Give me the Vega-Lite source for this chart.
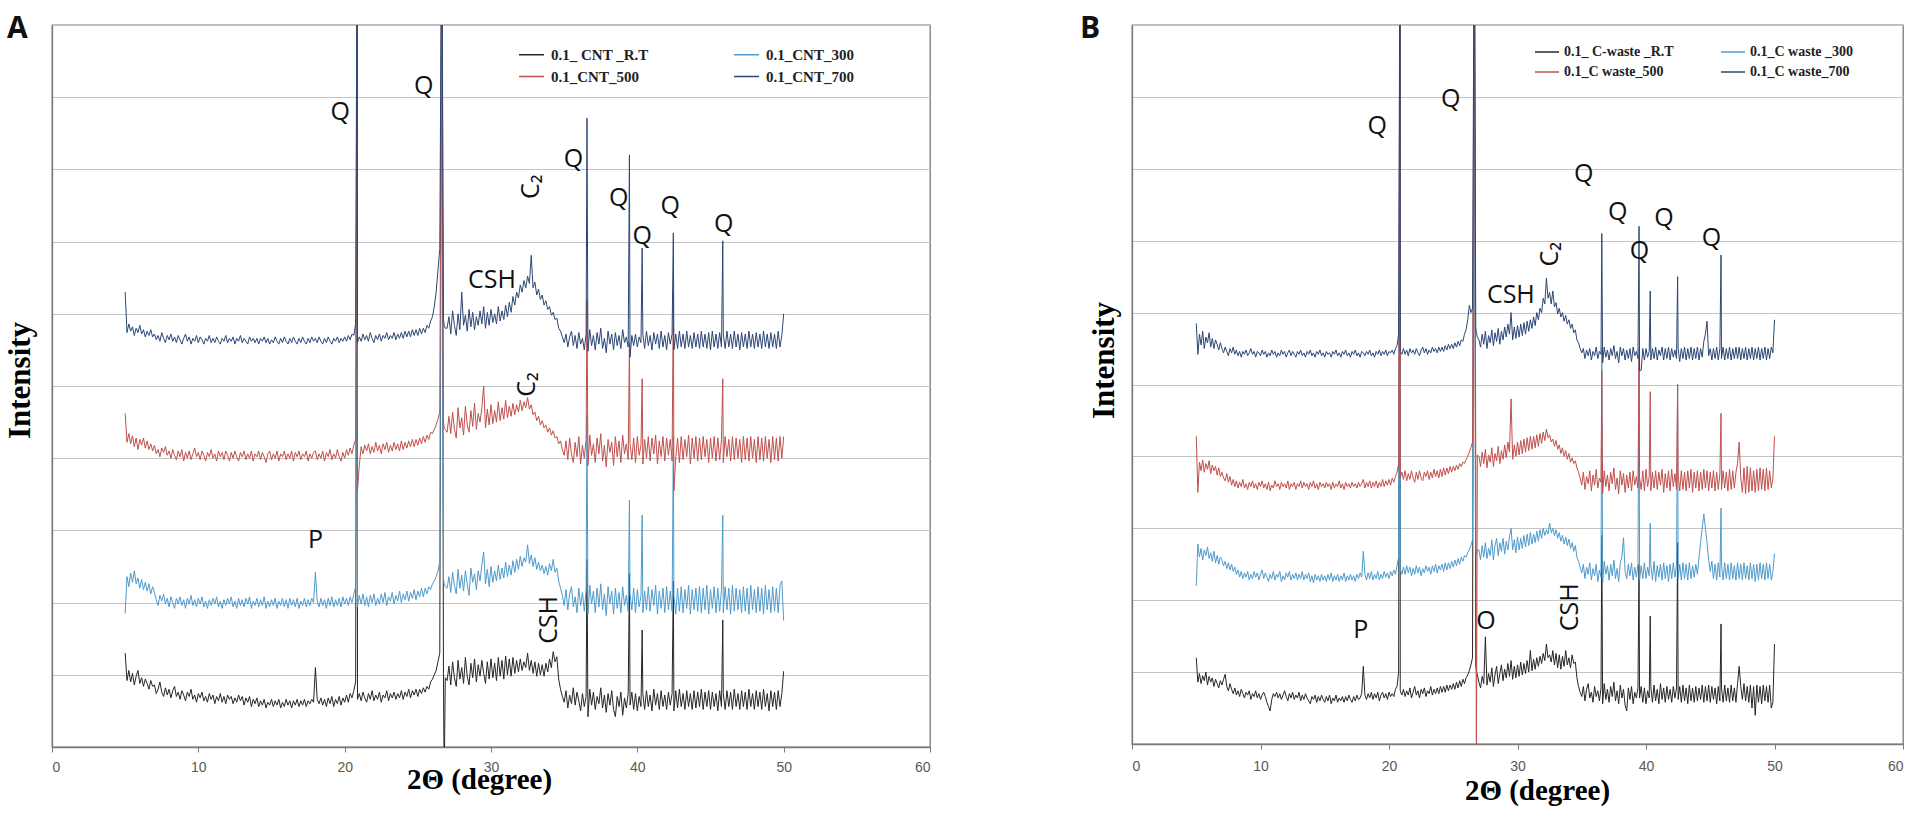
{
"$schema": "https://vega.github.io/schema/vega-lite/v6.json",
"background": "white",
"padding": {"left": 3, "top": 13, "right": 0, "bottom": 0},
"bounds": "flush",
"spacing": 202,
"config": {
  "view": {"stroke": "#7a7a7a", "strokeWidth": 1.3},
  "axis": {"domainColor": "#7a7a7a", "domainWidth": 1.3, "gridColor": "#c4c4c4", "gridWidth": 1.2, "tickColor": "#7a7a7a"}
},
"resolve": {"scale": {"color": "independent", "x": "independent", "y": "independent"}, "legend": {"color": "independent"}},
"datasets": {
"xrd": [
{"x":5,"a":1.3,"b":1.85,"c":4.62,"d":6.3,"e":1.2,"f":2.2,"g":4.28,"h":5.85},
{"x":5.125,"a":0.92,"b":2.36,"c":4.22,"d":5.74,"e":0.86,"f":2.78,"g":3.5,"h":5.42},
{"x":5.25,"a":1.06,"b":2.22,"c":4.34,"d":5.86,"e":0.98,"f":2.6,"g":3.92,"h":5.7},
{"x":5.375,"a":0.9,"b":2.41,"c":4.2,"d":5.76,"e":0.84,"f":2.72,"g":3.8,"h":5.55},
{"x":5.5,"a":1.02,"b":2.28,"c":4.31,"d":5.82,"e":0.95,"f":2.56,"g":3.95,"h":5.74},
{"x":5.625,"a":0.86,"b":2.44,"c":4.16,"d":5.7,"e":0.88,"f":2.7,"g":3.78,"h":5.5},
{"x":5.75,"a":0.98,"b":2.26,"c":4.28,"d":5.8,"e":1.0,"f":2.62,"g":3.9,"h":5.66},
{"x":5.875,"a":1.06,"b":2.34,"c":4.12,"d":5.74,"e":0.82,"f":2.74,"g":3.82,"h":5.58},
{"x":6,"a":0.88,"b":2.2,"c":4.26,"d":5.84,"e":0.94,"f":2.58,"g":3.94,"h":5.72},
{"x":6.125,"a":0.96,"b":2.32,"c":4.18,"d":5.72,"e":0.86,"f":2.66,"g":3.76,"h":5.52},
{"x":6.25,"a":0.84,"b":2.18,"c":4.28,"d":5.78,"e":0.92,"f":2.54,"g":3.88,"h":5.64},
{"x":6.375,"a":0.94,"b":2.28,"c":4.14,"d":5.68,"e":0.8,"f":2.68,"g":3.8,"h":5.5},
{"x":6.5,"a":0.88,"b":2.16,"c":4.24,"d":5.76,"e":0.9,"f":2.52,"g":3.86,"h":5.62},
{"x":6.625,"a":0.8,"b":2.26,"c":4.12,"d":5.7,"e":0.84,"f":2.62,"g":3.74,"h":5.56},
{"x":6.75,"a":0.92,"b":2.12,"c":4.2,"d":5.78,"e":0.78,"f":2.5,"g":3.84,"h":5.48},
{"x":6.875,"a":0.84,"b":2.22,"c":4.1,"d":5.68,"e":0.88,"f":2.6,"g":3.72,"h":5.58},
{"x":7,"a":0.86,"b":2.14,"c":4.18,"d":5.72,"e":0.82,"f":2.56,"g":3.78,"h":5.5},
{"x":7.125,"a":0.74,"b":2.04,"c":4.06,"d":5.64,"e":0.9,"f":2.48,"g":3.7,"h":5.44},
{"x":7.25,"a":0.8,"b":1.96,"c":4.12,"d":5.7,"e":0.97,"f":2.54,"g":3.66,"h":5.52},
{"x":7.375,"a":0.9,"b":2.1,"c":4.02,"d":5.62,"e":0.8,"f":2.44,"g":3.76,"h":5.46},
{"x":7.5,"a":0.76,"b":2.02,"c":4.14,"d":5.74,"e":0.74,"f":2.52,"g":3.64,"h":5.4},
{"x":7.625,"a":0.7,"b":2.12,"c":4.08,"d":5.66,"e":0.84,"f":2.42,"g":3.72,"h":5.5},
{"x":7.75,"a":0.82,"b":1.98,"c":4.16,"d":5.6,"e":0.76,"f":2.5,"g":3.6,"h":5.44},
{"x":7.875,"a":0.72,"b":2.06,"c":4.04,"d":5.7,"e":0.7,"f":2.4,"g":3.68,"h":5.52},
{"x":8,"a":0.8,"b":1.94,"c":4.1,"d":5.64,"e":0.78,"f":2.46,"g":3.58,"h":5.42},
{"x":8.125,"a":0.68,"b":2.08,"c":4.0,"d":5.72,"e":0.68,"f":2.36,"g":3.66,"h":5.48},
{"x":8.25,"a":0.78,"b":2.0,"c":4.12,"d":5.62,"e":0.74,"f":2.42,"g":3.56,"h":5.4},
{"x":8.375,"a":0.84,"b":1.92,"c":4.04,"d":5.68,"e":0.66,"f":2.32,"g":3.64,"h":5.46},
{"x":8.5,"a":0.7,"b":2.06,"c":3.98,"d":5.6,"e":0.76,"f":2.4,"g":3.58,"h":5.38},
{"x":8.625,"a":0.76,"b":1.98,"c":4.1,"d":5.7,"e":0.7,"f":2.3,"g":3.68,"h":5.46},
{"x":8.75,"a":0.66,"b":2.08,"c":4.02,"d":5.64,"e":0.64,"f":2.38,"g":3.56,"h":5.42},
{"x":8.875,"a":0.78,"b":1.96,"c":4.12,"d":5.58,"e":0.72,"f":2.32,"g":3.62,"h":5.48},
{"x":9,"a":0.72,"b":2.04,"c":3.96,"d":5.66,"e":0.68,"f":2.4,"g":3.54,"h":5.4},
{"x":9.125,"a":0.64,"b":1.92,"c":4.08,"d":5.72,"e":0.74,"f":2.28,"g":3.64,"h":5.44},
{"x":9.25,"a":0.76,"b":2.06,"c":4.0,"d":5.62,"e":0.62,"f":2.36,"g":3.58,"h":5.5},
{"x":9.375,"a":0.7,"b":1.98,"c":4.1,"d":5.68,"e":0.7,"f":2.3,"g":3.66,"h":5.42},
{"x":9.5,"a":0.8,"b":2.1,"c":3.98,"d":5.58,"e":0.66,"f":2.4,"g":3.56,"h":5.46},
{"x":9.625,"a":0.66,"b":1.96,"c":4.06,"d":5.66,"e":0.74,"f":2.32,"g":3.62,"h":5.38},
{"x":9.75,"a":0.72,"b":2.04,"c":4.14,"d":5.62,"e":0.64,"f":2.38,"g":3.54,"h":5.46},
{"x":9.875,"a":0.62,"b":1.94,"c":4.02,"d":5.7,"e":0.7,"f":2.28,"g":3.64,"h":5.44},
{"x":10,"a":0.74,"b":2.06,"c":4.08,"d":5.6,"e":0.62,"f":2.36,"g":3.58,"h":5.4},
{"x":10.125,"a":0.68,"b":1.98,"c":3.98,"d":5.68,"e":0.68,"f":2.42,"g":3.66,"h":5.48},
{"x":10.25,"a":0.76,"b":2.08,"c":4.1,"d":5.64,"e":0.72,"f":2.3,"g":3.56,"h":5.42},
{"x":10.375,"a":0.64,"b":1.94,"c":4.04,"d":5.58,"e":0.66,"f":2.38,"g":3.62,"h":5.46},
{"x":10.5,"a":0.7,"b":2.02,"c":3.96,"d":5.66,"e":0.58,"f":2.32,"g":3.54,"h":5.38},
{"x":10.625,"a":0.62,"b":1.92,"c":4.08,"d":5.62,"e":0.52,"f":2.26,"g":3.64,"h":5.44},
{"x":10.75,"a":0.74,"b":2.04,"c":4.02,"d":5.7,"e":0.46,"f":2.36,"g":3.52,"h":5.4},
{"x":10.875,"a":0.66,"b":1.96,"c":4.12,"d":5.6,"e":0.62,"f":2.3,"g":3.6,"h":5.48},
{"x":11,"a":0.72,"b":2.06,"c":4.0,"d":5.66,"e":0.7,"f":2.4,"g":3.56,"h":5.42},
{"x":11.125,"a":0.6,"b":1.98,"c":4.06,"d":5.6,"e":0.66,"f":2.28,"g":3.66,"h":5.46},
{"x":11.25,"a":0.7,"b":2.08,"c":3.96,"d":5.68,"e":0.72,"f":2.36,"g":3.58,"h":5.38},
{"x":11.375,"a":0.64,"b":1.94,"c":4.1,"d":5.62,"e":0.64,"f":2.32,"g":3.62,"h":5.44},
{"x":11.5,"a":0.74,"b":2.02,"c":4.02,"d":5.58,"e":0.7,"f":2.4,"g":3.54,"h":5.4},
{"x":11.625,"a":0.62,"b":1.92,"c":4.08,"d":5.66,"e":0.62,"f":2.26,"g":3.64,"h":5.48},
{"x":11.75,"a":0.7,"b":2.04,"c":3.98,"d":5.62,"e":0.68,"f":2.34,"g":3.58,"h":5.42},
{"x":11.875,"a":0.6,"b":1.96,"c":4.1,"d":5.7,"e":0.74,"f":2.28,"g":3.62,"h":5.46},
{"x":12,"a":0.72,"b":2.06,"c":4.04,"d":5.6,"e":0.66,"f":2.38,"g":3.56,"h":5.38},
{"x":12.125,"a":0.66,"b":1.98,"c":3.96,"d":5.66,"e":0.6,"f":2.32,"g":3.66,"h":5.44},
{"x":12.25,"a":0.7,"b":2.08,"c":4.08,"d":5.62,"e":0.7,"f":2.4,"g":3.54,"h":5.48},
{"x":12.375,"a":0.6,"b":1.94,"c":4.0,"d":5.68,"e":0.64,"f":2.28,"g":3.62,"h":5.4},
{"x":12.5,"a":0.68,"b":2.02,"c":4.1,"d":5.58,"e":0.72,"f":2.36,"g":3.58,"h":5.46},
{"x":12.625,"a":0.62,"b":1.92,"c":4.02,"d":5.66,"e":0.62,"f":2.3,"g":3.64,"h":5.42},
{"x":12.75,"a":0.72,"b":2.06,"c":3.96,"d":5.62,"e":0.68,"f":2.38,"g":3.54,"h":5.38},
{"x":12.875,"a":0.64,"b":1.96,"c":4.08,"d":5.7,"e":0.64,"f":2.28,"g":3.62,"h":5.46},
{"x":13,"a":0.7,"b":2.04,"c":4.02,"d":5.6,"e":0.72,"f":2.36,"g":3.58,"h":5.42},
{"x":13.125,"a":0.58,"b":1.94,"c":4.1,"d":5.66,"e":0.6,"f":2.3,"g":3.66,"h":5.48},
{"x":13.25,"a":0.68,"b":2.06,"c":3.98,"d":5.62,"e":0.68,"f":2.4,"g":3.56,"h":5.4},
{"x":13.375,"a":0.62,"b":1.98,"c":4.06,"d":5.58,"e":0.62,"f":2.28,"g":3.64,"h":5.44},
{"x":13.5,"a":0.7,"b":2.08,"c":4.0,"d":5.68,"e":0.7,"f":2.36,"g":3.58,"h":5.38},
{"x":13.625,"a":0.56,"b":1.92,"c":4.1,"d":5.62,"e":0.64,"f":2.3,"g":3.62,"h":5.46},
{"x":13.75,"a":0.66,"b":2.02,"c":3.96,"d":5.66,"e":0.6,"f":2.38,"g":3.54,"h":5.42},
{"x":13.875,"a":0.6,"b":1.96,"c":4.06,"d":5.6,"e":0.56,"f":2.26,"g":3.64,"h":5.48},
{"x":14,"a":0.68,"b":2.06,"c":4.02,"d":5.66,"e":0.66,"f":2.34,"g":3.58,"h":5.4},
{"x":14.125,"a":0.56,"b":1.94,"c":4.1,"d":5.58,"e":0.62,"f":2.24,"g":3.66,"h":5.44},
{"x":14.25,"a":0.64,"b":2.04,"c":3.98,"d":5.66,"e":0.68,"f":2.36,"g":3.56,"h":5.38},
{"x":14.375,"a":0.58,"b":1.96,"c":4.08,"d":5.62,"e":0.58,"f":2.28,"g":3.62,"h":5.46},
{"x":14.5,"a":0.66,"b":2.08,"c":4.02,"d":5.68,"e":0.66,"f":2.34,"g":3.54,"h":5.42},
{"x":14.625,"a":0.54,"b":1.92,"c":3.94,"d":5.6,"e":0.6,"f":2.26,"g":3.64,"h":5.48},
{"x":14.75,"a":0.62,"b":2.02,"c":4.06,"d":5.66,"e":0.68,"f":2.36,"g":3.58,"h":5.4},
{"x":14.875,"a":0.58,"b":1.94,"c":4.1,"d":5.58,"e":0.62,"f":2.28,"g":3.62,"h":5.44},
{"x":15,"a":0.66,"b":2.04,"c":3.98,"d":5.64,"e":0.58,"f":2.34,"g":3.56,"h":5.38},
{"x":15.125,"a":0.56,"b":1.96,"c":4.06,"d":5.6,"e":0.66,"f":2.26,"g":3.64,"h":5.46},
{"x":15.25,"a":0.64,"b":2.06,"c":4.0,"d":5.68,"e":0.6,"f":2.36,"g":3.58,"h":5.42},
{"x":15.375,"a":0.58,"b":1.92,"c":4.1,"d":5.62,"e":0.68,"f":2.28,"g":3.62,"h":5.44},
{"x":15.5,"a":0.66,"b":2.02,"c":3.96,"d":5.58,"e":0.56,"f":2.38,"g":3.54,"h":5.38},
{"x":15.625,"a":0.54,"b":1.96,"c":4.06,"d":5.66,"e":0.64,"f":2.26,"g":3.64,"h":5.46},
{"x":15.75,"a":0.62,"b":2.06,"c":4.02,"d":5.6,"e":0.6,"f":2.34,"g":3.56,"h":5.42},
{"x":15.875,"a":0.56,"b":1.94,"c":4.1,"d":5.68,"e":0.68,"f":2.28,"g":3.62,"h":5.48},
{"x":16,"a":0.66,"b":2.04,"c":3.98,"d":5.62,"e":0.58,"f":2.36,"g":3.58,"h":5.4},
{"x":16.125,"a":0.58,"b":1.92,"c":4.06,"d":5.58,"e":0.64,"f":2.26,"g":3.66,"h":5.44},
{"x":16.25,"a":0.64,"b":2.06,"c":4.0,"d":5.66,"e":0.6,"f":2.34,"g":3.56,"h":5.38},
{"x":16.375,"a":0.54,"b":1.96,"c":4.1,"d":5.6,"e":0.66,"f":2.28,"g":3.62,"h":5.46},
{"x":16.5,"a":0.64,"b":2.04,"c":3.96,"d":5.68,"e":0.58,"f":2.38,"g":3.54,"h":5.42},
{"x":16.625,"a":0.58,"b":1.94,"c":4.08,"d":5.62,"e":0.66,"f":2.26,"g":3.64,"h":5.48},
{"x":16.75,"a":0.66,"b":2.06,"c":4.02,"d":5.58,"e":0.6,"f":2.34,"g":3.58,"h":5.4},
{"x":16.875,"a":0.56,"b":1.92,"c":4.1,"d":5.66,"e":0.68,"f":2.28,"g":3.62,"h":5.44},
{"x":17,"a":0.64,"b":2.02,"c":3.98,"d":5.6,"e":0.62,"f":2.36,"g":3.56,"h":5.38},
{"x":17.125,"a":0.58,"b":1.96,"c":4.06,"d":5.68,"e":0.58,"f":2.28,"g":3.64,"h":5.46},
{"x":17.25,"a":0.66,"b":2.06,"c":4.02,"d":5.62,"e":0.66,"f":2.34,"g":3.58,"h":5.42},
{"x":17.375,"a":0.56,"b":1.94,"c":4.1,"d":5.58,"e":0.6,"f":2.26,"g":3.62,"h":5.48},
{"x":17.5,"a":0.64,"b":2.04,"c":3.96,"d":5.66,"e":0.68,"f":2.36,"g":3.56,"h":5.4},
{"x":17.625,"a":0.6,"b":1.96,"c":4.06,"d":5.6,"e":0.62,"f":2.3,"g":3.64,"h":5.44},
{"x":17.75,"a":0.66,"b":2.06,"c":4.0,"d":5.68,"e":0.64,"f":2.38,"g":3.58,"h":5.38},
{"x":17.875,"a":0.62,"b":2.0,"c":4.08,"d":5.62,"e":0.7,"f":2.32,"g":3.62,"h":5.46},
{"x":18,"a":1.1,"b":2.42,"c":4.1,"d":5.66,"e":1.08,"f":2.68,"g":3.68,"h":5.44},
{"x":18.125,"a":0.66,"b":2.02,"c":3.98,"d":5.6,"e":0.68,"f":2.36,"g":3.56,"h":5.4},
{"x":18.25,"a":0.6,"b":1.94,"c":4.06,"d":5.68,"e":0.62,"f":2.28,"g":3.64,"h":5.46},
{"x":18.375,"a":0.68,"b":2.06,"c":4.0,"d":5.62,"e":0.7,"f":2.38,"g":3.58,"h":5.42},
{"x":18.5,"a":0.58,"b":1.96,"c":4.1,"d":5.58,"e":0.64,"f":2.3,"g":3.66,"h":5.48},
{"x":18.625,"a":0.66,"b":2.04,"c":3.96,"d":5.66,"e":0.72,"f":2.4,"g":3.56,"h":5.4},
{"x":18.75,"a":0.56,"b":1.92,"c":4.08,"d":5.6,"e":0.62,"f":2.28,"g":3.64,"h":5.44},
{"x":18.875,"a":0.68,"b":2.06,"c":4.02,"d":5.68,"e":0.7,"f":2.36,"g":3.58,"h":5.38},
{"x":19,"a":0.6,"b":1.96,"c":4.12,"d":5.62,"e":0.64,"f":2.3,"g":3.66,"h":5.46},
{"x":19.125,"a":0.7,"b":2.08,"c":3.98,"d":5.58,"e":0.72,"f":2.4,"g":3.56,"h":5.42},
{"x":19.25,"a":0.56,"b":1.94,"c":4.06,"d":5.66,"e":0.6,"f":2.28,"g":3.64,"h":5.48},
{"x":19.375,"a":0.66,"b":2.04,"c":4.0,"d":5.62,"e":0.68,"f":2.36,"g":3.58,"h":5.4},
{"x":19.5,"a":0.6,"b":1.96,"c":4.12,"d":5.68,"e":0.72,"f":2.3,"g":3.68,"h":5.46},
{"x":19.625,"a":0.7,"b":2.06,"c":4.02,"d":5.6,"e":0.64,"f":2.4,"g":3.58,"h":5.42},
{"x":19.75,"a":0.58,"b":1.94,"c":3.96,"d":5.66,"e":0.7,"f":2.32,"g":3.66,"h":5.48},
{"x":19.875,"a":0.68,"b":2.08,"c":4.08,"d":5.62,"e":0.62,"f":2.38,"g":3.6,"h":5.4},
{"x":20,"a":0.62,"b":1.98,"c":4.0,"d":5.68,"e":0.72,"f":2.3,"g":3.68,"h":5.46},
{"x":20.125,"a":0.72,"b":2.06,"c":4.12,"d":5.62,"e":0.66,"f":2.4,"g":3.6,"h":5.44},
{"x":20.25,"a":0.62,"b":1.96,"c":4.04,"d":5.7,"e":0.7,"f":2.34,"g":3.7,"h":5.48},
{"x":20.375,"a":0.74,"b":2.08,"c":4.14,"d":5.64,"e":0.66,"f":2.42,"g":3.64,"h":5.42},
{"x":20.5,"a":0.68,"b":2.0,"c":4.06,"d":5.72,"e":0.76,"f":2.36,"g":3.72,"h":5.5},
{"x":20.625,"a":0.78,"b":2.12,"c":4.18,"d":5.7,"e":0.8,"f":2.48,"g":3.78,"h":5.54},
{"x":20.75,"a":0.9,"b":2.22,"c":4.26,"d":5.86,"e":1.0,"f":2.6,"g":3.9,"h":5.7},
{"x":20.86,"a":12,"b":12,"c":12,"d":12,"e":12,"f":12,"g":12,"h":12},
{"x":20.875,"a":0.66,"b":1.94,"c":3.55,"d":5.6,"e":0.74,"f":2.44,"g":3.7,"h":5.46},
{"x":21,"a":0.74,"b":2.1,"c":3.9,"d":5.68,"e":0.68,"f":2.36,"g":3.78,"h":5.42},
{"x":21.125,"a":0.64,"b":1.98,"c":4.16,"d":5.62,"e":0.76,"f":2.46,"g":3.68,"h":5.5},
{"x":21.25,"a":0.76,"b":2.12,"c":4.06,"d":5.72,"e":0.66,"f":2.36,"g":3.8,"h":5.42},
{"x":21.375,"a":0.68,"b":1.96,"c":4.18,"d":5.64,"e":0.74,"f":2.48,"g":3.66,"h":5.48},
{"x":21.5,"a":0.62,"b":2.08,"c":4.1,"d":5.7,"e":0.68,"f":2.38,"g":3.76,"h":5.4},
{"x":21.625,"a":0.74,"b":1.94,"c":4.2,"d":5.62,"e":0.78,"f":2.46,"g":3.68,"h":5.5},
{"x":21.75,"a":0.66,"b":2.1,"c":4.06,"d":5.74,"e":0.64,"f":2.34,"g":3.8,"h":5.44},
{"x":21.875,"a":0.78,"b":2.0,"c":4.16,"d":5.66,"e":0.72,"f":2.44,"g":3.7,"h":5.48},
{"x":22,"a":0.64,"b":2.12,"c":4.08,"d":5.6,"e":0.8,"f":2.36,"g":3.64,"h":5.42},
{"x":22.125,"a":0.72,"b":1.96,"c":4.22,"d":5.7,"e":0.68,"f":2.48,"g":3.78,"h":5.5},
{"x":22.25,"a":0.66,"b":2.06,"c":4.1,"d":5.64,"e":0.74,"f":2.38,"g":3.68,"h":5.44},
{"x":22.375,"a":0.76,"b":1.98,"c":4.18,"d":5.72,"e":0.64,"f":2.46,"g":3.8,"h":5.4},
{"x":22.5,"a":0.62,"b":2.12,"c":4.06,"d":5.62,"e":0.76,"f":2.34,"g":3.7,"h":5.48},
{"x":22.625,"a":0.72,"b":2.0,"c":4.2,"d":5.7,"e":0.7,"f":2.44,"g":3.66,"h":5.52},
{"x":22.75,"a":0.68,"b":2.14,"c":4.12,"d":5.66,"e":0.78,"f":2.38,"g":3.78,"h":5.44},
{"x":22.875,"a":0.78,"b":1.96,"c":4.22,"d":5.74,"e":0.66,"f":2.48,"g":3.72,"h":5.5},
{"x":23,"a":0.64,"b":2.08,"c":4.08,"d":5.64,"e":0.74,"f":2.4,"g":3.8,"h":5.42},
{"x":23.125,"a":0.74,"b":2.02,"c":4.18,"d":5.7,"e":0.7,"f":2.46,"g":3.68,"h":5.48},
{"x":23.25,"a":0.68,"b":2.14,"c":4.1,"d":5.66,"e":0.8,"f":2.36,"g":3.78,"h":5.44},
{"x":23.375,"a":0.76,"b":1.98,"c":4.22,"d":5.74,"e":0.68,"f":2.48,"g":3.7,"h":5.52},
{"x":23.5,"a":0.66,"b":2.1,"c":4.12,"d":5.64,"e":0.76,"f":2.4,"g":3.82,"h":5.46},
{"x":23.625,"a":0.74,"b":2.02,"c":4.2,"d":5.72,"e":0.7,"f":2.5,"g":3.72,"h":5.5},
{"x":23.75,"a":0.68,"b":2.16,"c":4.1,"d":5.66,"e":0.78,"f":2.38,"g":3.8,"h":5.44},
{"x":23.875,"a":0.78,"b":2.0,"c":4.24,"d":5.74,"e":0.7,"f":2.48,"g":3.7,"h":5.52},
{"x":24,"a":0.66,"b":2.12,"c":4.12,"d":5.66,"e":0.8,"f":2.42,"g":3.82,"h":5.46},
{"x":24.125,"a":0.76,"b":2.04,"c":4.22,"d":5.76,"e":0.72,"f":2.5,"g":3.72,"h":5.52},
{"x":24.25,"a":0.7,"b":2.16,"c":4.14,"d":5.68,"e":0.8,"f":2.4,"g":3.84,"h":5.46},
{"x":24.375,"a":0.8,"b":2.02,"c":4.24,"d":5.76,"e":0.72,"f":2.52,"g":3.74,"h":5.54},
{"x":24.5,"a":0.68,"b":2.14,"c":4.16,"d":5.68,"e":0.82,"f":2.42,"g":3.84,"h":5.48},
{"x":24.625,"a":0.78,"b":2.06,"c":4.26,"d":5.78,"e":0.74,"f":2.52,"g":3.76,"h":5.56},
{"x":24.75,"a":0.72,"b":2.18,"c":4.16,"d":5.7,"e":0.82,"f":2.44,"g":3.86,"h":5.5},
{"x":24.875,"a":0.8,"b":2.04,"c":4.26,"d":5.78,"e":0.76,"f":2.54,"g":3.78,"h":5.56},
{"x":25,"a":0.7,"b":2.16,"c":4.18,"d":5.7,"e":0.84,"f":2.46,"g":3.86,"h":5.5},
{"x":25.125,"a":0.8,"b":2.08,"c":4.28,"d":5.8,"e":0.76,"f":2.56,"g":3.8,"h":5.58},
{"x":25.25,"a":0.74,"b":2.2,"c":4.2,"d":5.72,"e":0.86,"f":2.48,"g":3.88,"h":5.52},
{"x":25.375,"a":0.82,"b":2.08,"c":4.3,"d":5.8,"e":0.78,"f":2.58,"g":3.82,"h":5.6},
{"x":25.5,"a":0.76,"b":2.2,"c":4.22,"d":5.74,"e":0.88,"f":2.5,"g":3.9,"h":5.54},
{"x":25.625,"a":0.84,"b":2.12,"c":4.32,"d":5.84,"e":0.8,"f":2.6,"g":3.86,"h":5.62},
{"x":25.75,"a":0.8,"b":2.22,"c":4.26,"d":5.8,"e":0.9,"f":2.54,"g":3.92,"h":5.6},
{"x":25.875,"a":0.9,"b":2.18,"c":4.36,"d":5.9,"e":0.84,"f":2.62,"g":3.9,"h":5.7},
{"x":26,"a":0.94,"b":2.26,"c":4.34,"d":5.96,"e":0.92,"f":2.6,"g":3.96,"h":5.76},
{"x":26.125,"a":1.0,"b":2.3,"c":4.4,"d":6.1,"e":0.96,"f":2.66,"g":4.0,"h":5.9},
{"x":26.25,"a":1.06,"b":2.36,"c":4.46,"d":6.3,"e":1.02,"f":2.7,"g":4.06,"h":6.1},
{"x":26.375,"a":1.18,"b":2.44,"c":4.54,"d":6.6,"e":1.1,"f":2.76,"g":4.12,"h":6.0},
{"x":26.5,"a":1.3,"b":2.56,"c":4.64,"d":6.9,"e":1.2,"f":2.84,"g":4.2,"h":6.06},
{"x":26.64,"a":12,"b":12,"c":12,"d":12,"e":12,"f":12,"g":12,"h":12},
{"x":26.75,"a":1.02,"b":2.34,"c":4.5,"d":5.92,"e":1.1,"f":2.72,"g":4.1,"h":5.8},
{"x":26.8,"a":-0.5,"b":2.26,"c":4.42,"d":5.84,"e":1.02,"f":2.64,"g":-0.5,"h":5.72},
{"x":26.875,"a":0.96,"b":2.22,"c":4.4,"d":5.8,"e":0.96,"f":2.7,"g":4.02,"h":5.66},
{"x":27,"a":0.92,"b":2.2,"c":4.36,"d":5.8,"e":0.86,"f":2.7,"g":4.0,"h":5.62},
{"x":27.125,"a":1.12,"b":2.36,"c":4.58,"d":5.96,"e":0.78,"f":2.56,"g":3.86,"h":5.52},
{"x":27.25,"a":0.86,"b":2.14,"c":4.34,"d":5.72,"e":0.94,"f":2.76,"g":4.06,"h":5.7},
{"x":27.375,"a":1.18,"b":2.42,"c":4.64,"d":6.04,"e":0.84,"f":2.6,"g":3.9,"h":5.56},
{"x":27.5,"a":0.96,"b":2.24,"c":4.4,"d":5.84,"e":1.49,"f":2.8,"g":4.1,"h":5.74},
{"x":27.625,"a":0.84,"b":2.12,"c":4.28,"d":5.7,"e":0.82,"f":2.58,"g":3.84,"h":5.5},
{"x":27.75,"a":1.2,"b":2.46,"c":4.7,"d":6.0,"e":0.98,"f":2.72,"g":4.02,"h":5.68},
{"x":27.875,"a":0.94,"b":2.2,"c":4.42,"d":5.78,"e":0.86,"f":2.62,"g":3.92,"h":5.58},
{"x":28,"a":1.1,"b":2.38,"c":4.56,"d":6.3,"e":1.06,"f":2.84,"g":4.12,"h":5.76},
{"x":28.125,"a":0.88,"b":2.16,"c":4.32,"d":5.84,"e":0.8,"f":2.56,"g":3.86,"h":5.54},
{"x":28.25,"a":1.24,"b":2.44,"c":4.72,"d":5.98,"e":0.96,"f":2.76,"g":4.04,"h":5.72},
{"x":28.375,"a":0.98,"b":2.26,"c":4.46,"d":5.76,"e":1.08,"f":2.86,"g":3.94,"h":5.6},
{"x":28.5,"a":0.86,"b":2.1,"c":4.36,"d":6.06,"e":0.84,"f":2.62,"g":4.14,"h":5.78},
{"x":28.625,"a":1.16,"b":2.48,"c":4.66,"d":5.82,"e":0.98,"f":2.8,"g":3.9,"h":5.56},
{"x":28.75,"a":0.96,"b":2.28,"c":4.44,"d":6.02,"e":1.1,"f":2.68,"g":4.08,"h":5.74},
{"x":28.875,"a":1.22,"b":2.4,"c":4.76,"d":5.78,"e":0.88,"f":2.86,"g":3.96,"h":5.62},
{"x":29,"a":0.9,"b":2.18,"c":4.4,"d":5.96,"e":1.04,"f":2.64,"g":4.16,"h":5.8},
{"x":29.125,"a":1.14,"b":2.44,"c":4.62,"d":5.84,"e":0.92,"f":2.82,"g":3.98,"h":5.66},
{"x":29.25,"a":0.98,"b":2.3,"c":4.5,"d":6.04,"e":1.12,"f":2.7,"g":4.2,"h":5.84},
{"x":29.375,"a":1.2,"b":2.52,"c":4.7,"d":5.86,"e":0.94,"f":2.88,"g":4.06,"h":5.7},
{"x":29.5,"a":1.02,"b":2.7,"c":5.0,"d":6.1,"e":1.16,"f":3.0,"g":4.8,"h":6.0},
{"x":29.625,"a":0.88,"b":2.26,"c":4.42,"d":5.8,"e":0.9,"f":2.7,"g":3.96,"h":5.62},
{"x":29.75,"a":1.18,"b":2.46,"c":4.68,"d":6.02,"e":1.08,"f":2.84,"g":4.16,"h":5.8},
{"x":29.875,"a":0.94,"b":2.22,"c":4.46,"d":5.84,"e":0.92,"f":2.66,"g":4.0,"h":5.64},
{"x":30,"a":1.22,"b":2.5,"c":4.74,"d":6.06,"e":1.1,"f":2.88,"g":4.2,"h":5.82},
{"x":30.125,"a":0.96,"b":2.28,"c":4.48,"d":5.88,"e":0.94,"f":2.7,"g":4.02,"h":5.66},
{"x":30.25,"a":1.16,"b":2.44,"c":4.66,"d":6.0,"e":1.14,"f":2.86,"g":4.22,"h":5.84},
{"x":30.375,"a":0.92,"b":2.3,"c":4.5,"d":5.86,"e":0.96,"f":2.72,"g":4.04,"h":5.68},
{"x":30.5,"a":1.24,"b":2.52,"c":4.78,"d":6.1,"e":1.12,"f":2.9,"g":4.24,"h":5.86},
{"x":30.625,"a":0.98,"b":2.32,"c":4.52,"d":5.9,"e":0.98,"f":2.74,"g":4.06,"h":5.7},
{"x":30.75,"a":1.2,"b":2.48,"c":4.7,"d":6.04,"e":1.16,"f":2.92,"g":4.26,"h":5.88},
{"x":30.875,"a":0.94,"b":2.34,"c":4.54,"d":5.92,"e":1.0,"f":2.76,"g":4.08,"h":5.74},
{"x":31,"a":1.26,"b":2.56,"c":4.8,"d":6.12,"e":1.3,"f":2.94,"g":4.28,"h":5.9},
{"x":31.125,"a":1.0,"b":2.36,"c":4.56,"d":5.96,"e":1.02,"f":2.78,"g":4.1,"h":5.78},
{"x":31.25,"a":1.22,"b":2.52,"c":4.72,"d":6.16,"e":1.18,"f":2.92,"g":4.28,"h":5.94},
{"x":31.375,"a":0.98,"b":2.38,"c":4.58,"d":6.02,"e":1.04,"f":2.8,"g":4.12,"h":5.82},
{"x":31.5,"a":1.24,"b":2.58,"c":4.76,"d":6.24,"e":1.2,"f":2.96,"g":4.3,"h":6.0},
{"x":31.625,"a":1.02,"b":2.42,"c":4.6,"d":6.12,"e":1.08,"f":2.82,"g":4.14,"h":5.9},
{"x":31.75,"a":1.2,"b":2.6,"c":4.74,"d":6.3,"e":1.22,"f":2.98,"g":4.32,"h":6.06},
{"x":31.875,"a":1.04,"b":2.46,"c":4.64,"d":6.22,"e":1.12,"f":2.86,"g":4.18,"h":6.0},
{"x":32,"a":1.22,"b":2.64,"c":4.8,"d":6.4,"e":1.26,"f":3.0,"g":4.34,"h":6.2},
{"x":32.125,"a":1.06,"b":2.5,"c":4.66,"d":6.3,"e":1.16,"f":2.9,"g":4.22,"h":6.12},
{"x":32.25,"a":1.18,"b":2.62,"c":4.78,"d":6.46,"e":1.39,"f":2.98,"g":4.38,"h":6.48},
{"x":32.375,"a":1.1,"b":2.56,"c":4.7,"d":6.36,"e":1.2,"f":2.92,"g":4.26,"h":6.2},
{"x":32.5,"a":1.3,"b":2.8,"c":4.84,"d":6.52,"e":1.24,"f":3.07,"g":4.3,"h":6.28},
{"x":32.625,"a":1.06,"b":2.54,"c":4.68,"d":6.42,"e":1.14,"f":2.94,"g":4.2,"h":6.12},
{"x":32.75,"a":1.2,"b":2.66,"c":4.74,"d":6.81,"e":1.3,"f":3.0,"g":4.24,"h":6.3},
{"x":32.875,"a":1.02,"b":2.5,"c":4.6,"d":6.36,"e":1.1,"f":2.9,"g":4.14,"h":6.08},
{"x":33,"a":1.18,"b":2.62,"c":4.64,"d":6.44,"e":1.26,"f":2.98,"g":4.22,"h":6.14},
{"x":33.125,"a":0.98,"b":2.46,"c":4.52,"d":6.26,"e":1.06,"f":2.86,"g":4.1,"h":5.98},
{"x":33.25,"a":1.16,"b":2.56,"c":4.58,"d":6.34,"e":1.24,"f":2.94,"g":4.16,"h":6.06},
{"x":33.375,"a":1.0,"b":2.44,"c":4.46,"d":6.2,"e":1.04,"f":2.82,"g":4.04,"h":5.94},
{"x":33.5,"a":1.14,"b":2.52,"c":4.52,"d":6.26,"e":1.22,"f":2.9,"g":4.12,"h":6.0},
{"x":33.625,"a":0.98,"b":2.4,"c":4.42,"d":6.12,"e":1.08,"f":2.78,"g":4.0,"h":5.88},
{"x":33.75,"a":1.16,"b":2.5,"c":4.46,"d":6.18,"e":1.3,"f":2.88,"g":4.08,"h":5.96},
{"x":33.875,"a":1.04,"b":2.38,"c":4.36,"d":6.06,"e":1.1,"f":2.76,"g":3.96,"h":5.84},
{"x":34,"a":1.22,"b":2.54,"c":4.42,"d":6.1,"e":1.2,"f":2.85,"g":4.04,"h":5.9},
{"x":34.125,"a":1.1,"b":2.44,"c":4.32,"d":5.98,"e":1.06,"f":2.72,"g":3.92,"h":5.78},
{"x":34.25,"a":1.32,"b":2.6,"c":4.38,"d":6.02,"e":1.24,"f":2.8,"g":3.98,"h":5.84},
{"x":34.375,"a":1.18,"b":2.42,"c":4.28,"d":5.92,"e":1.12,"f":2.68,"g":3.9,"h":5.72},
{"x":34.5,"a":1.25,"b":2.48,"c":4.3,"d":5.94,"e":1.14,"f":2.76,"g":3.94,"h":5.76},
{"x":34.625,"a":0.94,"b":2.3,"c":4.2,"d":5.8,"e":0.92,"f":2.6,"g":3.84,"h":5.62},
{"x":34.75,"a":0.8,"b":2.2,"c":4.24,"d":5.76,"e":0.8,"f":2.54,"g":3.78,"h":5.58},
{"x":34.875,"a":0.7,"b":2.1,"c":4.12,"d":5.68,"e":0.72,"f":2.46,"g":3.7,"h":5.5},
{"x":35,"a":0.62,"b":1.96,"c":4.04,"d":5.6,"e":0.66,"f":2.38,"g":3.6,"h":5.44},
{"x":35.125,"a":0.78,"b":2.18,"c":4.24,"d":5.72,"e":0.8,"f":2.5,"g":3.78,"h":5.5},
{"x":35.25,"a":0.54,"b":1.9,"c":3.98,"d":5.54,"e":0.6,"f":2.3,"g":3.54,"h":5.36},
{"x":35.375,"a":0.72,"b":2.12,"c":4.28,"d":5.68,"e":0.76,"f":2.46,"g":3.72,"h":5.48},
{"x":35.5,"a":0.6,"b":2.22,"c":4.06,"d":5.76,"e":0.84,"f":2.36,"g":3.62,"h":5.4},
{"x":35.625,"a":0.82,"b":1.94,"c":3.94,"d":5.56,"e":0.64,"f":2.52,"g":3.8,"h":5.5},
{"x":35.75,"a":0.58,"b":2.08,"c":4.22,"d":5.7,"e":0.72,"f":2.28,"g":3.52,"h":5.34},
{"x":35.875,"a":0.76,"b":1.86,"c":4.02,"d":5.52,"e":0.58,"f":2.44,"g":3.74,"h":5.46},
{"x":36,"a":0.64,"b":2.2,"c":4.3,"d":5.74,"e":0.8,"f":2.34,"g":3.6,"h":5.4},
{"x":36.125,"a":0.5,"b":1.96,"c":3.92,"d":5.58,"e":0.66,"f":2.5,"g":3.82,"h":5.52},
{"x":36.25,"a":0.74,"b":2.14,"c":4.18,"d":5.66,"e":0.74,"f":2.26,"g":3.56,"h":5.36},
{"x":36.375,"a":0.56,"b":1.88,"c":4.0,"d":5.5,"e":0.6,"f":2.42,"g":3.7,"h":5.46},
{"x":36.5,"a":0.7,"b":2.18,"c":4.26,"d":5.72,"e":0.78,"f":2.32,"g":3.64,"h":5.42},
{"x":36.56,"a":2.6,"b":4.6,"c":6.2,"d":8.71,"e":2.9,"f":5.5,"g":5.19,"h":7.1},
{"x":36.625,"a":0.42,"b":1.84,"c":3.9,"d":5.48,"e":0.56,"f":2.24,"g":3.48,"h":5.3},
{"x":36.75,"a":0.8,"b":2.24,"c":4.32,"d":5.78,"e":0.84,"f":2.54,"g":3.8,"h":5.52},
{"x":36.875,"a":0.58,"b":1.98,"c":4.04,"d":5.56,"e":0.62,"f":2.36,"g":3.58,"h":5.38},
{"x":37,"a":0.76,"b":2.16,"c":4.2,"d":5.7,"e":0.76,"f":2.48,"g":3.74,"h":5.48},
{"x":37.125,"a":0.52,"b":1.86,"c":3.94,"d":5.5,"e":0.58,"f":2.28,"g":3.52,"h":5.34},
{"x":37.25,"a":0.7,"b":2.2,"c":4.28,"d":5.74,"e":0.8,"f":2.5,"g":3.78,"h":5.5},
{"x":37.375,"a":0.6,"b":1.94,"c":4.06,"d":5.58,"e":0.66,"f":2.34,"g":3.62,"h":5.4},
{"x":37.5,"a":0.82,"b":2.26,"c":4.34,"d":5.8,"e":0.86,"f":2.56,"g":3.84,"h":5.54},
{"x":37.625,"a":0.54,"b":1.9,"c":3.96,"d":5.52,"e":0.6,"f":2.3,"g":3.54,"h":5.36},
{"x":37.75,"a":0.72,"b":2.12,"c":4.18,"d":5.66,"e":0.74,"f":2.44,"g":3.7,"h":5.46},
{"x":37.875,"a":0.48,"b":1.82,"c":3.88,"d":5.46,"e":0.56,"f":2.26,"g":3.48,"h":5.3},
{"x":38,"a":0.74,"b":2.22,"c":4.26,"d":5.76,"e":0.82,"f":2.52,"g":3.8,"h":5.52},
{"x":38.125,"a":0.58,"b":1.98,"c":4.08,"d":5.58,"e":0.64,"f":2.6,"g":3.6,"h":5.4},
{"x":38.25,"a":0.78,"b":2.16,"c":4.22,"d":5.72,"e":0.76,"f":2.87,"g":3.76,"h":5.5},
{"x":38.375,"a":0.52,"b":1.84,"c":3.9,"d":5.5,"e":0.54,"f":2.4,"g":3.5,"h":5.34},
{"x":38.5,"a":0.42,"b":2.2,"c":4.3,"d":5.74,"e":0.46,"f":2.3,"g":3.74,"h":5.48},
{"x":38.625,"a":0.7,"b":1.92,"c":4.02,"d":5.56,"e":0.78,"f":2.5,"g":3.56,"h":5.36},
{"x":38.75,"a":0.56,"b":2.14,"c":4.24,"d":5.7,"e":0.62,"f":2.34,"g":3.78,"h":5.5},
{"x":38.875,"a":0.76,"b":1.86,"c":3.94,"d":5.52,"e":0.8,"f":2.52,"g":3.52,"h":5.32},
{"x":39,"a":0.44,"b":2.22,"c":4.32,"d":5.78,"e":0.56,"f":2.28,"g":3.8,"h":5.52},
{"x":39.125,"a":0.68,"b":1.96,"c":4.06,"d":5.6,"e":0.72,"f":2.46,"g":3.6,"h":5.4},
{"x":39.25,"a":0.54,"b":2.1,"c":4.2,"d":5.68,"e":0.64,"f":2.32,"g":3.72,"h":5.46},
{"x":39.375,"a":0.74,"b":1.88,"c":3.98,"d":5.54,"e":0.78,"f":2.5,"g":3.56,"h":5.36},
{"x":39.46,"a":2.4,"b":3.42,"c":5.6,"d":8.2,"e":2.5,"f":5.5,"g":5.4,"h":7.2},
{"x":39.5,"a":0.58,"b":2.12,"c":4.2,"d":5.4,"e":0.64,"f":2.28,"g":3.7,"h":5.19},
{"x":39.625,"a":0.76,"b":1.9,"c":3.98,"d":5.7,"e":0.8,"f":2.48,"g":3.54,"h":5.2},
{"x":39.75,"a":0.52,"b":2.2,"c":4.28,"d":5.56,"e":0.58,"f":2.3,"g":3.8,"h":5.5},
{"x":39.875,"a":0.74,"b":1.86,"c":3.94,"d":5.72,"e":0.78,"f":2.52,"g":3.52,"h":5.34},
{"x":40,"a":0.5,"b":2.18,"c":4.3,"d":5.54,"e":0.56,"f":2.3,"g":3.82,"h":5.5},
{"x":40.125,"a":0.7,"b":1.94,"c":4.04,"d":5.68,"e":0.74,"f":2.46,"g":3.58,"h":5.38},
{"x":40.25,"a":0.56,"b":2.1,"c":4.18,"d":5.6,"e":0.64,"f":2.34,"g":3.72,"h":5.46},
{"x":40.33,"a":1.62,"b":3.21,"c":5.1,"d":6.91,"e":1.78,"f":3.07,"g":4.9,"h":6.3},
{"x":40.375,"a":0.74,"b":1.86,"c":3.92,"d":5.72,"e":0.8,"f":2.5,"g":3.52,"h":5.34},
{"x":40.5,"a":0.52,"b":2.16,"c":4.26,"d":5.52,"e":0.58,"f":2.28,"g":3.78,"h":5.5},
{"x":40.625,"a":0.78,"b":1.9,"c":4.0,"d":5.76,"e":0.82,"f":2.54,"g":3.56,"h":5.36},
{"x":40.75,"a":0.56,"b":2.22,"c":4.3,"d":5.56,"e":0.6,"f":2.26,"g":3.8,"h":5.52},
{"x":40.875,"a":0.72,"b":1.88,"c":3.96,"d":5.7,"e":0.76,"f":2.48,"g":3.54,"h":5.34},
{"x":41,"a":0.5,"b":2.18,"c":4.28,"d":5.5,"e":0.56,"f":2.32,"g":3.78,"h":5.48},
{"x":41.125,"a":0.8,"b":1.96,"c":4.06,"d":5.74,"e":0.84,"f":2.5,"g":3.6,"h":5.4},
{"x":41.25,"a":0.58,"b":2.24,"c":4.32,"d":5.58,"e":0.62,"f":2.28,"g":3.82,"h":5.52},
{"x":41.375,"a":0.74,"b":1.84,"c":3.92,"d":5.72,"e":0.78,"f":2.52,"g":3.5,"h":5.34},
{"x":41.5,"a":0.52,"b":2.16,"c":4.24,"d":5.52,"e":0.58,"f":2.3,"g":3.76,"h":5.5},
{"x":41.625,"a":0.78,"b":1.92,"c":4.02,"d":5.76,"e":0.8,"f":2.48,"g":3.56,"h":5.36},
{"x":41.75,"a":0.56,"b":2.2,"c":4.3,"d":5.54,"e":0.62,"f":2.26,"g":3.8,"h":5.52},
{"x":41.875,"a":0.72,"b":1.86,"c":3.96,"d":5.7,"e":0.76,"f":2.5,"g":3.52,"h":5.34},
{"x":42,"a":0.52,"b":2.22,"c":4.28,"d":5.5,"e":0.58,"f":2.3,"g":3.82,"h":5.5},
{"x":42.125,"a":0.76,"b":1.9,"c":4.04,"d":5.74,"e":0.8,"f":2.52,"g":3.58,"h":5.38},
{"x":42.25,"a":0.58,"b":2.16,"c":4.26,"d":5.58,"e":0.64,"f":2.32,"g":3.76,"h":5.48},
{"x":42.375,"a":0.74,"b":1.88,"c":3.96,"d":5.72,"e":0.78,"f":2.5,"g":3.54,"h":5.36},
{"x":42.46,"a":2.3,"b":4.3,"c":6.3,"d":7.12,"e":2.8,"f":5.0,"g":5.0,"h":6.5},
{"x":42.5,"a":0.5,"b":2.1,"c":3.55,"d":5.5,"e":0.62,"f":2.3,"g":3.74,"h":5.5},
{"x":42.625,"a":0.78,"b":1.84,"c":4.0,"d":5.72,"e":0.8,"f":2.5,"g":3.52,"h":5.32},
{"x":42.75,"a":0.54,"b":2.2,"c":4.28,"d":5.52,"e":0.58,"f":2.28,"g":3.8,"h":5.5},
{"x":42.875,"a":0.8,"b":1.88,"c":3.94,"d":5.76,"e":0.82,"f":2.52,"g":3.54,"h":5.36},
{"x":43,"a":0.56,"b":2.22,"c":4.3,"d":5.54,"e":0.6,"f":2.3,"g":3.78,"h":5.52},
{"x":43.125,"a":0.74,"b":1.86,"c":3.98,"d":5.72,"e":0.78,"f":2.5,"g":3.52,"h":5.34},
{"x":43.25,"a":0.52,"b":2.18,"c":4.26,"d":5.52,"e":0.56,"f":2.28,"g":3.8,"h":5.5},
{"x":43.375,"a":0.78,"b":1.92,"c":4.02,"d":5.76,"e":0.82,"f":2.52,"g":3.56,"h":5.36},
{"x":43.5,"a":0.56,"b":2.24,"c":4.32,"d":5.54,"e":0.6,"f":2.3,"g":3.82,"h":5.52},
{"x":43.625,"a":0.74,"b":1.84,"c":3.92,"d":5.7,"e":0.78,"f":2.48,"g":3.5,"h":5.34},
{"x":43.75,"a":0.52,"b":2.18,"c":4.28,"d":5.52,"e":0.58,"f":2.32,"g":3.78,"h":5.5},
{"x":43.875,"a":0.78,"b":1.9,"c":4.0,"d":5.74,"e":0.8,"f":2.5,"g":3.56,"h":5.36},
{"x":44,"a":0.54,"b":2.2,"c":4.3,"d":5.54,"e":0.6,"f":2.36,"g":3.8,"h":5.52},
{"x":44.125,"a":0.76,"b":1.88,"c":3.96,"d":5.72,"e":0.78,"f":2.6,"g":3.52,"h":5.34},
{"x":44.25,"a":0.56,"b":2.22,"c":4.28,"d":5.52,"e":0.62,"f":2.8,"g":3.78,"h":5.5},
{"x":44.375,"a":0.8,"b":1.86,"c":3.98,"d":5.76,"e":0.82,"f":3.0,"g":3.54,"h":5.38},
{"x":44.5,"a":0.52,"b":2.2,"c":4.3,"d":5.54,"e":0.58,"f":3.2,"g":3.82,"h":5.6},
{"x":44.625,"a":0.76,"b":1.9,"c":4.02,"d":5.72,"e":0.8,"f":3.0,"g":3.56,"h":5.7},
{"x":44.75,"a":0.56,"b":2.24,"c":4.26,"d":5.52,"e":0.6,"f":2.8,"g":3.8,"h":5.88},
{"x":44.875,"a":0.78,"b":1.84,"c":3.94,"d":5.74,"e":0.82,"f":2.56,"g":3.52,"h":5.4},
{"x":45,"a":0.52,"b":2.18,"c":4.28,"d":5.5,"e":0.58,"f":2.4,"g":3.78,"h":5.5},
{"x":45.125,"a":0.76,"b":1.92,"c":4.0,"d":5.76,"e":0.8,"f":2.54,"g":3.56,"h":5.34},
{"x":45.25,"a":0.56,"b":2.22,"c":4.3,"d":5.54,"e":0.62,"f":2.3,"g":3.8,"h":5.5},
{"x":45.375,"a":0.74,"b":1.86,"c":3.96,"d":5.72,"e":0.78,"f":2.5,"g":3.52,"h":5.36},
{"x":45.5,"a":0.5,"b":2.2,"c":4.28,"d":5.52,"e":0.56,"f":2.28,"g":3.78,"h":5.52},
{"x":45.625,"a":0.78,"b":1.88,"c":3.98,"d":5.74,"e":0.8,"f":2.52,"g":3.54,"h":5.34},
{"x":45.75,"a":0.56,"b":2.18,"c":4.26,"d":5.54,"e":0.6,"f":2.32,"g":3.76,"h":5.5},
{"x":45.84,"a":1.76,"b":3.21,"c":5.1,"d":7.01,"e":1.67,"f":3.28,"g":4.6,"h":6.8},
{"x":45.875,"a":0.74,"b":1.86,"c":3.94,"d":5.72,"e":0.78,"f":2.5,"g":3.54,"h":5.36},
{"x":46,"a":0.52,"b":2.22,"c":4.3,"d":5.52,"e":0.58,"f":2.28,"g":3.8,"h":5.52},
{"x":46.125,"a":0.78,"b":1.9,"c":4.02,"d":5.76,"e":0.82,"f":2.52,"g":3.56,"h":5.34},
{"x":46.25,"a":0.56,"b":2.2,"c":4.26,"d":5.54,"e":0.6,"f":2.3,"g":3.78,"h":5.5},
{"x":46.375,"a":0.76,"b":1.84,"c":3.96,"d":5.72,"e":0.78,"f":2.5,"g":3.52,"h":5.36},
{"x":46.5,"a":0.52,"b":2.24,"c":4.3,"d":5.52,"e":0.58,"f":2.28,"g":3.82,"h":5.52},
{"x":46.625,"a":0.8,"b":1.88,"c":3.98,"d":5.76,"e":0.82,"f":2.52,"g":3.54,"h":5.34},
{"x":46.75,"a":0.56,"b":2.2,"c":4.28,"d":5.54,"e":0.6,"f":2.3,"g":3.8,"h":5.5},
{"x":46.875,"a":0.74,"b":1.9,"c":4.0,"d":5.72,"e":0.78,"f":2.48,"g":3.56,"h":5.36},
{"x":47,"a":0.52,"b":2.18,"c":4.26,"d":5.5,"e":0.58,"f":2.28,"g":3.78,"h":5.52},
{"x":47.125,"a":0.78,"b":1.86,"c":3.94,"d":5.74,"e":0.84,"f":2.52,"g":3.9,"h":5.36},
{"x":47.25,"a":0.56,"b":2.22,"c":4.3,"d":5.54,"e":1.08,"f":2.3,"g":4.2,"h":5.52},
{"x":47.375,"a":0.76,"b":1.88,"c":3.98,"d":5.72,"e":0.8,"f":2.5,"g":3.7,"h":5.34},
{"x":47.5,"a":0.52,"b":2.2,"c":4.28,"d":5.52,"e":0.62,"f":2.28,"g":3.5,"h":5.5},
{"x":47.625,"a":0.8,"b":1.84,"c":3.96,"d":5.76,"e":0.84,"f":2.52,"g":3.84,"h":5.36},
{"x":47.75,"a":0.56,"b":2.24,"c":4.3,"d":5.54,"e":0.6,"f":2.3,"g":3.48,"h":5.52},
{"x":47.875,"a":0.74,"b":1.9,"c":4.0,"d":5.72,"e":0.8,"f":2.48,"g":3.86,"h":5.34},
{"x":48,"a":0.52,"b":2.18,"c":4.26,"d":5.52,"e":0.58,"f":2.28,"g":3.5,"h":5.5},
{"x":48.125,"a":0.78,"b":1.86,"c":3.94,"d":5.74,"e":0.82,"f":2.52,"g":3.84,"h":5.36},
{"x":48.25,"a":0.56,"b":2.22,"c":4.3,"d":5.54,"e":0.5,"f":2.3,"g":3.52,"h":5.52},
{"x":48.375,"a":0.76,"b":1.88,"c":3.98,"d":5.72,"e":0.8,"f":2.5,"g":3.8,"h":5.34},
{"x":48.5,"a":0.52,"b":2.2,"c":4.28,"d":5.52,"e":0.4,"f":2.26,"g":3.5,"h":5.5},
{"x":48.625,"a":0.8,"b":1.84,"c":3.96,"d":5.76,"e":0.82,"f":2.5,"g":3.82,"h":5.36},
{"x":48.75,"a":0.56,"b":2.24,"c":4.3,"d":5.54,"e":0.58,"f":2.28,"g":3.52,"h":5.52},
{"x":48.875,"a":0.74,"b":1.9,"c":4.0,"d":5.72,"e":0.8,"f":2.52,"g":3.84,"h":5.34},
{"x":49,"a":0.5,"b":2.18,"c":4.26,"d":5.52,"e":0.56,"f":2.3,"g":3.54,"h":5.5},
{"x":49.125,"a":0.78,"b":1.86,"c":3.94,"d":5.74,"e":0.82,"f":2.5,"g":3.82,"h":5.36},
{"x":49.25,"a":0.56,"b":2.22,"c":4.3,"d":5.54,"e":0.6,"f":2.28,"g":3.52,"h":5.52},
{"x":49.375,"a":0.76,"b":1.88,"c":3.98,"d":5.72,"e":0.8,"f":2.52,"g":3.84,"h":5.34},
{"x":49.5,"a":0.52,"b":2.2,"c":4.28,"d":5.52,"e":0.58,"f":2.3,"g":3.54,"h":5.5},
{"x":49.625,"a":0.78,"b":1.86,"c":3.96,"d":5.76,"e":0.82,"f":2.5,"g":3.8,"h":5.36},
{"x":49.75,"a":0.56,"b":2.24,"c":4.3,"d":5.54,"e":0.5,"f":2.28,"g":3.56,"h":5.52},
{"x":49.875,"a":0.74,"b":2.3,"c":4.0,"d":5.7,"e":0.58,"f":2.4,"g":3.7,"h":5.44},
{"x":50,"a":1.05,"b":1.75,"c":4.3,"d":6.0,"e":1.39,"f":2.65,"g":4.28,"h":5.9}
],
"annA": [
{"x":19.7,"y":8.8,"t":"Q"},{"x":25.4,"y":9.16,"t":"Q"},{"x":35.64,"y":8.14,"t":"Q"},{"x":38.73,"y":7.6,"t":"Q"},{"x":40.33,"y":7.08,"t":"Q"},{"x":42.25,"y":7.5,"t":"Q"},{"x":45.9,"y":7.25,"t":"Q"},{"x":30.07,"y":6.47,"t":"CSH"},{"x":18.0,"y":2.87,"t":"P"}
],
"annAr": [
{"x":32.7,"y":7.76,"t":"C₂"},{"x":32.45,"y":5.02,"t":"C₂"},{"x":33.96,"y":1.76,"t":"CSH"}
],
"annB": [
{"x":19.08,"y":8.6,"t":"Q"},{"x":24.81,"y":8.97,"t":"Q"},{"x":35.16,"y":7.93,"t":"Q"},{"x":37.8,"y":7.4,"t":"Q"},{"x":41.4,"y":7.31,"t":"Q"},{"x":39.5,"y":6.86,"t":"Q"},{"x":45.1,"y":7.04,"t":"Q"},{"x":29.48,"y":6.25,"t":"CSH"},{"x":17.8,"y":1.58,"t":"P"},{"x":27.55,"y":1.71,"t":"O"}
],
"annBr": [
{"x":32.5,"y":6.81,"t":"C₂"},{"x":34.05,"y":1.9,"t":"CSH"}
]
},
"hconcat": [
{
  "width": 878, "height": 722,
  "title": {"text": "A", "anchor": "start", "frame": "group", "font": "Open Sans", "fontSize": 30, "fontWeight": "bold", "color": "#111111", "dx": -45, "offset": -43, "baseline": "alphabetic"},
  "encoding": {
    "x": {"field": "x", "type": "quantitative", "scale": {"domain": [0, 60], "nice": false},
      "axis": {"values": [0,10,20,30,40,50,60], "grid": false, "tickSize": 5, "labelFont": "Liberation Sans Narrow, Liberation Sans", "labelFontSize": 14, "labelColor": "#595959", "labelPadding": 8,
        "title": "2Θ (degree)", "titleFont": "Liberation Serif", "titleFontSize": 29, "titleFontWeight": "bold", "titleColor": "#000000", "titleX": 427, "titleY": 41, "titleBaseline": "alphabetic", "titleAlign": "center"}},
    "y": {"field": "y", "type": "quantitative", "scale": {"domain": [0, 10], "nice": false},
      "axis": {"values": [0,1,2,3,4,5,6,7,8,9,10], "labels": false, "ticks": false, "grid": true,
        "title": "Intensity", "titleFont": "Liberation Serif", "titleFontSize": 31, "titleFontWeight": "bold", "titleColor": "#000000", "titlePadding": 16, "titleY": 355}}
  },
  "layer": [
    {"data": {"name": "xrd"}, "transform": [{"fold": ["a","b","c","d"], "as": ["s","y"]}],
     "mark": {"type": "line", "strokeWidth": 1, "clip": true},
     "encoding": {"color": {"field": "s", "type": "nominal",
        "scale": {"domain": ["a","b","c","d"], "range": ["#262626","#4f9bcb","#c0504d","#2c4675"]},
        "legend": {"orient": "none", "direction": "horizontal", "legendX": 466, "legendY": 16, "columns": 2, "title": null, "symbolType": "stroke", "symbolSize": 625, "symbolStrokeWidth": 1.5, "labelFont": "Liberation Serif", "labelFontWeight": "bold", "labelFontSize": 15, "labelColor": "#222222", "labelOffset": 6, "columnPadding": 82, "rowPadding": 0, "padding": 0,
          "labelExpr": "datum.label=='a'?'0.1_ CNT _R.T':datum.label=='b'?'0.1_CNT_300':datum.label=='c'?'0.1_CNT_500':'0.1_CNT_700'",
          "encode": {"symbols": {"update": {"stroke": {"value": "#9a9a9a"}}}}}}}},
    {"data": {"name": "annA"}, "mark": {"type": "text", "font": "Open Sans", "fontSize": 25, "align": "center", "baseline": "middle", "color": "#111111"}, "encoding": {"text": {"field": "t"}}},
    {"data": {"name": "annAr"}, "mark": {"type": "text", "font": "Open Sans", "fontSize": 25, "align": "center", "baseline": "middle", "angle": 270, "color": "#111111"}, "encoding": {"text": {"field": "t"}}}
  ]
},
{
  "width": 771, "height": 719,
  "title": {"text": "B", "anchor": "start", "frame": "group", "font": "Open Sans", "fontSize": 30, "fontWeight": "bold", "color": "#111111", "dx": -52, "offset": -43, "baseline": "alphabetic"},
  "encoding": {
    "x": {"field": "x", "type": "quantitative", "scale": {"domain": [0, 60], "nice": false},
      "axis": {"values": [0,10,20,30,40,50,60], "grid": false, "tickSize": 5, "labelFont": "Liberation Sans Narrow, Liberation Sans", "labelFontSize": 14, "labelColor": "#595959", "labelPadding": 10,
        "title": "2Θ (degree)", "titleFont": "Liberation Serif", "titleFontSize": 29, "titleFontWeight": "bold", "titleColor": "#000000", "titleX": 405, "titleY": 55, "titleBaseline": "alphabetic", "titleAlign": "center"}},
    "y": {"field": "y", "type": "quantitative", "scale": {"domain": [0, 10], "nice": false},
      "axis": {"values": [0,1,2,3,4,5,6,7,8,9,10], "labels": false, "ticks": false, "grid": true,
        "title": "Intensity", "titleFont": "Liberation Serif", "titleFontSize": 31, "titleFontWeight": "bold", "titleColor": "#000000", "titlePadding": 12, "titleY": 335}}
  },
  "layer": [
    {"data": {"name": "xrd"}, "transform": [{"fold": ["e","f","g","h"], "as": ["s","y"]}],
     "mark": {"type": "line", "strokeWidth": 1, "clip": true},
     "encoding": {"color": {"field": "s", "type": "nominal",
        "scale": {"domain": ["e","f","g","h"], "range": ["#262626","#4f9bcb","#c0504d","#2c4675"]},
        "legend": {"orient": "none", "direction": "horizontal", "legendX": 402, "legendY": 14, "columns": 2, "title": null, "symbolType": "stroke", "symbolSize": 576, "symbolStrokeWidth": 1.5, "labelFont": "Liberation Serif", "labelFontWeight": "bold", "labelFontSize": 14, "labelColor": "#222222", "labelOffset": 4, "columnPadding": 44, "rowPadding": 0, "padding": 0,
          "labelExpr": "datum.label=='e'?'0.1_ C-waste _R.T':datum.label=='f'?'0.1_C waste _300':datum.label=='g'?'0.1_C  waste_500':'0.1_C waste_700'",
          "encode": {"symbols": {"update": {"stroke": {"value": "#9a9a9a"}}}}}}}},
    {"data": {"name": "annB"}, "mark": {"type": "text", "font": "Open Sans", "fontSize": 25, "align": "center", "baseline": "middle", "color": "#111111"}, "encoding": {"text": {"field": "t"}}},
    {"data": {"name": "annBr"}, "mark": {"type": "text", "font": "Open Sans", "fontSize": 25, "align": "center", "baseline": "middle", "angle": 270, "color": "#111111"}, "encoding": {"text": {"field": "t"}}}
  ]
}
]
}
